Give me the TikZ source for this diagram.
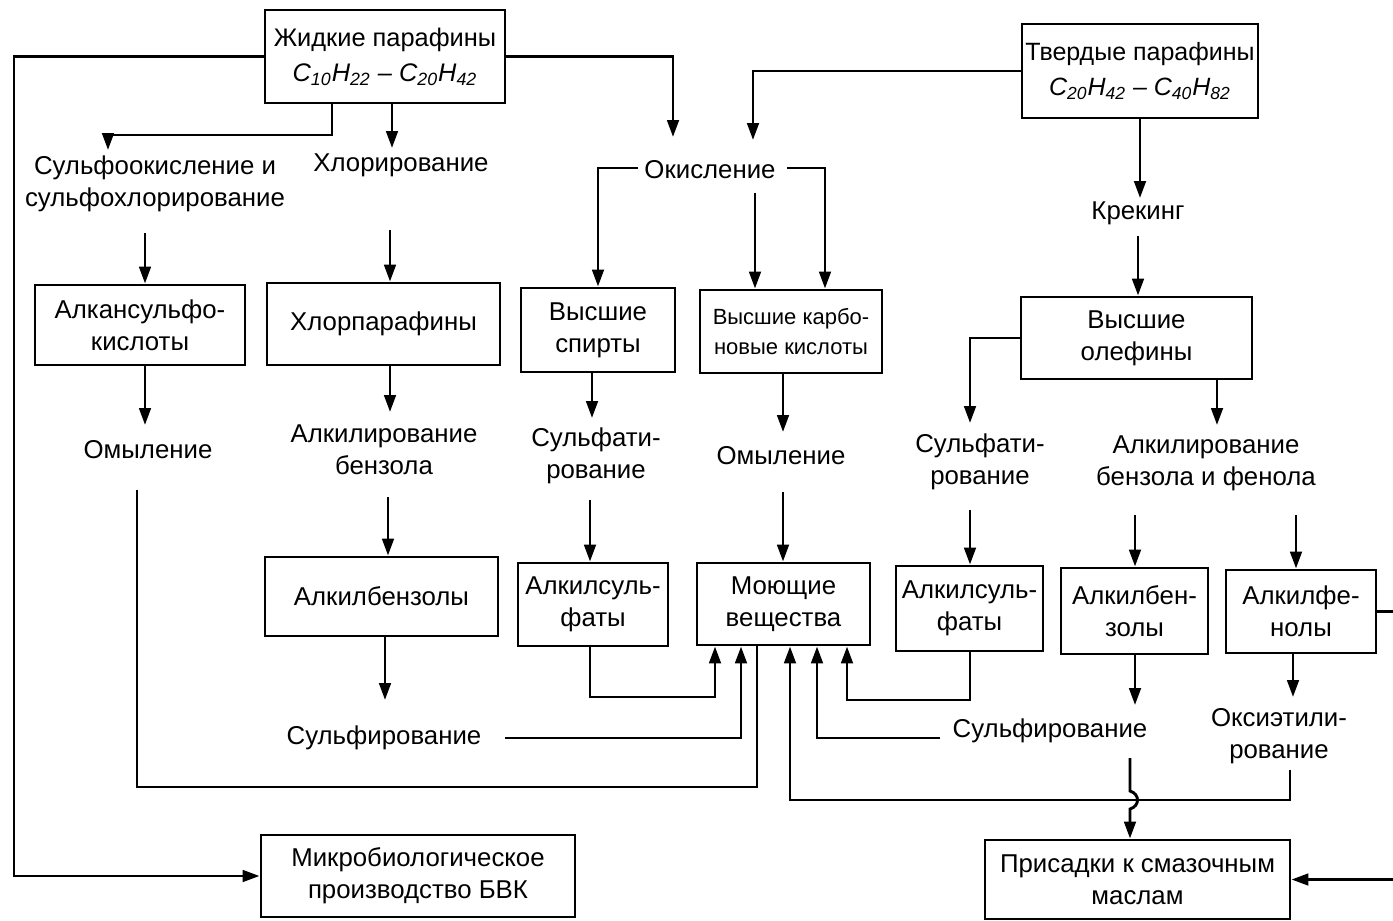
\documentclass[tikz,border=0pt]{standalone}
\usepackage{fontspec}
\setmainfont{Liberation Sans}
\usetikzlibrary{arrows.meta}
\begin{document}
\begin{tikzpicture}[x=0.5pt,y=-0.5pt,
  every node/.style={font=\fontsize{12.9}{16}\selectfont, align=center, inner sep=0pt},
  box/.style={draw, line width=1.45pt},
  arr/.style={line width=1.45pt, -{Triangle[length=8.5pt,width=5.8pt]}},
  ln/.style={line width=1.45pt}]
\useasboundingbox (0,0) rectangle (1393,921);
\fill[white] (0,0) rectangle (1393,921);
% boxes
\node[box, minimum width=120pt, minimum height=46.5pt, font=\fontsize{12.7}{17.5}\selectfont] (zh) at (385,56.5)
  {Жидкие парафины\\\textit{C\textsubscript{10}H\textsubscript{22} – C\textsubscript{20}H\textsubscript{42}}};
\node[box, minimum width=118pt, minimum height=47pt, font=\fontsize{12.5}{17.5}\selectfont] (tv) at (1140,71)
  {Твердые парафины\\\textit{C\textsubscript{20}H\textsubscript{42} – C\textsubscript{40}H\textsubscript{82}}};
\node[box, minimum width=105pt, minimum height=40pt] (aks) at (140,325) {Алкансульфо-\\кислоты};
\node[box, minimum width=116.5pt, minimum height=41pt] (hp) at (383.5,324) {Хлорпарафины};
\node[box, minimum width=77pt, minimum height=42pt] (vs) at (598,330) {Высшие\\спирты};
\node[box, minimum width=91pt, minimum height=41.5pt, font=\fontsize{11}{15}\selectfont] (vk) at (791,331.5) {Высшие карбо-\\новые кислоты};
\node[box, minimum width=115.5pt, minimum height=41pt] (vo) at (1136.5,338) {Высшие\\олефины};
\node[box, minimum width=116.5pt, minimum height=39.5pt] (ab1) at (381.5,596.5) {Алкилбензолы};
\node[box, minimum width=75pt, minimum height=41.5pt] (as1) at (593,604.5) {Алкилсуль-\\фаты};
\node[box, minimum width=86.5pt, minimum height=41pt] (mv) at (783.5,604) {Моющие\\вещества};
\node[box, minimum width=73.5pt, minimum height=42.5pt] (as2) at (969.5,608.5) {Алкилсуль-\\фаты};
\node[box, minimum width=73.5pt, minimum height=43pt] (ab2) at (1134.5,611) {Алкилбен-\\золы};
\node[box, minimum width=75pt, minimum height=41.5pt] (af) at (1301,611.5) {Алкилфе-\\нолы};
\node[box, minimum width=157pt, minimum height=41pt] (mb) at (418,876) {Микробиологическое\\производство БВК};
\node[box, minimum width=152.5pt, minimum height=39.5pt] (pr) at (1137.5,879.5) {Присадки к смазочным\\маслам};
% labels
\node (so) at (155,184) {Сульфоокисление и\\сульфохлорирование};
\node (hl) at (401,165) {Хлорирование};
\node (ok) at (710,170) {Окисление};
\node (kr) at (1138,213) {Крекинг};
\node (om1) at (148,450) {Омыление};
\node (alb) at (384,450) {Алкилирование\\бензола};
\node (sf1) at (596,456) {Сульфати-\\рование};
\node (om2) at (781,456) {Омыление};
\node (sf2) at (980,462) {Сульфати-\\рование};
\node (abf) at (1206,463) {Алкилирование\\бензола и фенола};
\node (su1) at (384,738) {Сульфирование};
\node (su2) at (1050,731) {Сульфирование};
\node (oe) at (1279,736) {Оксиэтили-\\рование};
% coordinates
\coordinate (lft) at (14,0);
\coordinate (okin1) at (673,137);
\coordinate (sobend) at (332,135);
\coordinate (soin) at (108,150);
\coordinate (hlin) at (392,148);
\coordinate (okin2) at (753,140);
\coordinate (krin) at (1140,198);
\coordinate (okL) at (638,168);
\coordinate (okR) at (787,168);
\coordinate (vkR) at (825,0);
\coordinate (okB) at (755,193);
\coordinate (soout) at (145,233);
\coordinate (hlout) at (390,230);
\coordinate (krout) at (1138,236);
\coordinate (om1in) at (145,425);
\coordinate (albin) at (390,412);
\coordinate (sf1in) at (592,418);
\coordinate (om2in) at (783,432);
\coordinate (sf2in) at (970,423);
\coordinate (abfin) at (1217,425);
\coordinate (albout) at (388,497);
\coordinate (sf1out) at (590,500);
\coordinate (om2out) at (783,492);
\coordinate (sf2out) at (970,510);
\coordinate (abfoutA) at (1135,515);
\coordinate (abfoutB) at (1296,515);
\coordinate (su1in) at (385,700);
\coordinate (as1bend) at (590,697);
\coordinate (mvA) at (715,0);
\coordinate (su1out) at (505,738);
\coordinate (mvB) at (741,0);
\coordinate (om1out) at (137,490);
\coordinate (mvC) at (757,787);
\coordinate (oeout) at (1290,770);
\coordinate (mvD) at (790,800);
\coordinate (su2out) at (940,738);
\coordinate (mvE) at (817,0);
\coordinate (as2bend) at (970,700);
\coordinate (mvF) at (847,0);
\coordinate (su2in) at (1135,705);
\coordinate (su2down) at (1130,758);
\coordinate (hop) at (1130,800);
\coordinate (oein) at (1293,697);
\coordinate (redge) at (1398,0);
% connectors
\draw[arr] (zh.west) -| (lft |- mb.west) -- (mb.west);
\draw[arr] (zh.east) -| (okin1);
\draw[arr] (sobend |- zh.south) -- (sobend) -| (soin);
\draw[arr] (hlin |- zh.south) -- (hlin);
\draw[arr] (tv.west) -| (okin2);
\draw[arr] (krin |- tv.south) -- (krin);
\draw[arr] (okL) -| (vs.north);
\draw[arr] (okR) -| (vkR |- vk.north);
\draw[arr] (okB) -- (okB |- vk.north);
\draw[arr] (soout) -- (soout |- aks.north);
\draw[arr] (hlout) -- (hlout |- hp.north);
\draw[arr] (krout) -- (krout |- vo.north);
\draw[arr] (om1in |- aks.south) -- (om1in);
\draw[arr] (albin |- hp.south) -- (albin);
\draw[arr] (sf1in |- vs.south) -- (sf1in);
\draw[arr] (om2in |- vk.south) -- (om2in);
\draw[arr] (vo.west) -| (sf2in);
\draw[arr] (abfin |- vo.south) -- (abfin);
\draw[arr] (albout) -- (albout |- ab1.north);
\draw[arr] (sf1out) -- (sf1out |- as1.north);
\draw[arr] (om2out) -- (om2out |- mv.north);
\draw[arr] (sf2out) -- (sf2out |- as2.north);
\draw[arr] (abfoutA) -- (abfoutA |- ab2.north);
\draw[arr] (abfoutB) -- (abfoutB |- af.north);
\draw[arr] (su1in |- ab1.south) -- (su1in);
\draw[arr] (as1bend |- as1.south) -- (as1bend) -| (mvA |- mv.south);
\draw[arr] (su1out) -| (mvB |- mv.south);
\draw[ln] (om1out) |- (mvC) -- (mvC |- mv.south);
\draw[arr] (oeout) |- (mvD) -- (mvD |- mv.south);
\draw[arr] (su2out) -| (mvE |- mv.south);
\draw[arr] (as2bend |- as2.south) -- (as2bend) -| (mvF |- mv.south);
\draw[arr] (su2in |- ab2.south) -- (su2in);
\draw[arr] (su2down) -- ([yshift=4.5pt]hop) .. controls +(5pt,-1.5pt) and +(5pt,1.5pt) .. ([yshift=-4.5pt]hop) -- (hop |- pr.north);
\draw[arr] (oein |- af.south) -- (oein);
\draw[arr] (af.east) -- (redge |- af.east) |- (pr.east);
\end{tikzpicture}
\end{document}
